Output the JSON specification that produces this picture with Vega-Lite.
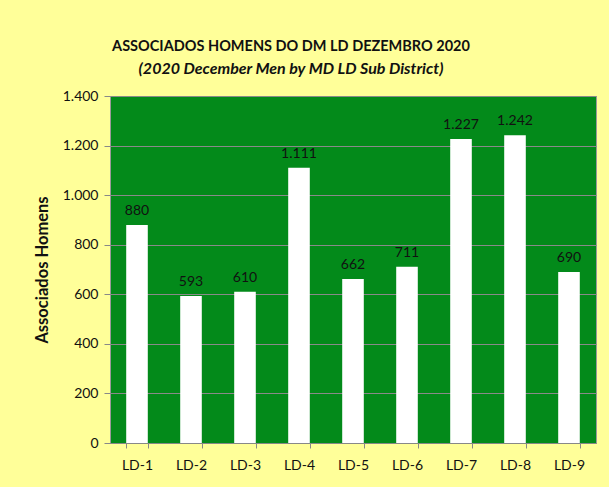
{
  "$schema": "https://vega.github.io/schema/vega-lite/v6.json",
  "autosize": {"type": "none"},
  "padding": {"left": 110, "top": 96, "right": 13, "bottom": 44},
  "width": 486,
  "height": 347,
  "background": "#FFFF99",
  "config": {
    "locale": {"number": {"decimal": ",", "thousands": ".", "grouping": [3], "currency": ["R$", ""]}},
    "view": {"fill": "#038A1A", "stroke": "#9a9a9a", "strokeWidth": 1},
    "font": "Lato"
  },
  "title": {
    "text": "ASSOCIADOS HOMENS DO DM LD DEZEMBRO 2020",
    "subtitle": "(2020 December Men by MD LD Sub District)",
    "font": "Lato",
    "fontSize": 14.5,
    "fontWeight": "bold",
    "color": "#111",
    "subtitleFont": "Lato",
    "subtitleFontSize": 16,
    "subtitleFontWeight": "bold",
    "subtitleFontStyle": "italic",
    "subtitleColor": "#111",
    "subtitlePadding": 7,
    "anchor": "middle",
    "dx": -62,
    "offset": 11
  },
  "data": {
    "values": [
      {"district": "LD-1", "value": 880},
      {"district": "LD-2", "value": 593},
      {"district": "LD-3", "value": 610},
      {"district": "LD-4", "value": 1111},
      {"district": "LD-5", "value": 662},
      {"district": "LD-6", "value": 711},
      {"district": "LD-7", "value": 1227},
      {"district": "LD-8", "value": 1242},
      {"district": "LD-9", "value": 690}
    ]
  },
  "encoding": {
    "x": {
      "field": "district",
      "type": "nominal",
      "sort": null,
      "scale": {"paddingInner": 0.6, "paddingOuter": 0.3},
      "axis": {
        "title": null,
        "labelAngle": 0,
        "labelFont": "Lato",
        "labelFontSize": 14,
        "labelColor": "#111",
        "labelPadding": 10,
        "tickBand": "extent",
        "tickColor": "#888",
        "tickSize": 5,
        "domainColor": "#888"
      }
    },
    "y": {
      "field": "value",
      "type": "quantitative",
      "scale": {"domain": [0, 1400], "nice": false},
      "axis": {
        "title": "Associados  Homens",
        "titleFont": "Lato",
        "titleFontSize": 16.5,
        "titleFontWeight": "bold",
        "titleColor": "#111",
        "titlePadding": 12,
        "values": [0, 200, 400, 600, 800, 1000, 1200, 1400],
        "format": ",d",
        "labelFont": "Lato",
        "labelFontSize": 14,
        "labelColor": "#111",
        "labelPadding": 6,
        "tickColor": "#888",
        "tickSize": 6,
        "domain": false,
        "grid": true,
        "gridColor": "#8a8a8a",
        "gridWidth": 1
      }
    }
  },
  "layer": [
    {"mark": {"type": "bar", "color": "#ffffff"}},
    {
      "mark": {"type": "text", "dy": -14, "font": "Lato", "fontSize": 14, "color": "#111"},
      "encoding": {"text": {"field": "value", "type": "quantitative", "format": ",d"}}
    }
  ]
}
